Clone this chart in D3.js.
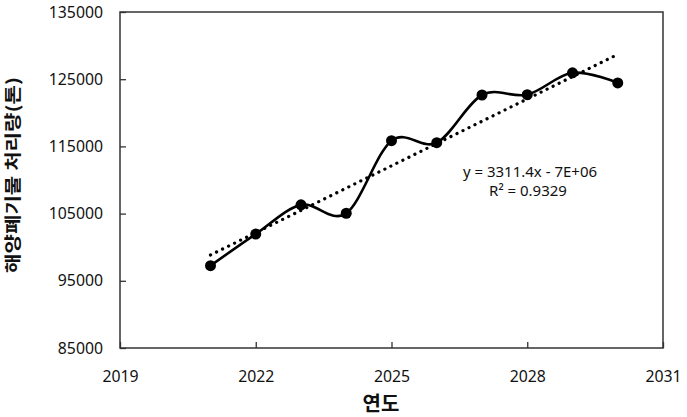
<!DOCTYPE html>
<html>
<head>
<meta charset="utf-8">
<script src="https://cdn.jsdelivr.net/npm/d3@7"></script>
<style>
  html, body { margin: 0; padding: 0; background: #fff; }
  svg { display: block; }
</style>
</head>
<body>
<svg id="chart" width="687" height="417"></svg>
<script>
const years = [2021, 2022, 2023, 2024, 2025, 2026, 2027, 2028, 2029, 2030];
const values = [97250, 101950, 106300, 105050, 115850, 115550, 122650, 122700, 125950, 124450];
const xTicks = [2019, 2022, 2025, 2028, 2031];
const yTicks = [85000, 95000, 105000, 115000, 125000, 135000];
const xTitle = "연도";
const yTitle = "해양폐기물 처리량(톤)";
const eqLines = ["y = 3311.4x - 7E+06", "R² = 0.9329"];

const svg = d3.select("#chart");
const L = 120, R = 663, T = 12, B = 348;
const x = d3.scaleLinear().domain([2019, 2031]).range([L, R]);
const y = d3.scaleLinear().domain([85000, 135000]).range([B, T]);
const font = "'Noto Sans', 'Open Sans', sans-serif";

// plot frame
svg.append("rect").attr("x", L).attr("y", T).attr("width", R - L).attr("height", B - T)
  .attr("fill", "none").attr("stroke", "#333").attr("stroke-width", 1.5);

// axes (inside ticks)
const yAxis = svg.append("g").attr("transform", `translate(${L},0)`)
  .call(d3.axisRight(y).tickValues(yTicks).tickSize(6).tickFormat(d3.format("d")));
yAxis.select(".domain").remove();
yAxis.selectAll("line").attr("stroke", "#333").attr("stroke-width", 1.3);
yAxis.selectAll("text").attr("x", -17).attr("text-anchor", "end")
  .style("font-family", font).style("font-size", "15.8px").attr("fill", "#111");

const xAxis = svg.append("g").attr("transform", `translate(0,${B})`)
  .call(d3.axisTop(x).tickValues(xTicks).tickSize(6).tickFormat(d3.format("d")));
xAxis.select(".domain").remove();
xAxis.selectAll("line").attr("stroke", "#333").attr("stroke-width", 1.3);
xAxis.selectAll("text").attr("y", 23).attr("dy", "0.71em")
  .style("font-family", font).style("font-size", "15.8px").attr("fill", "#111");

// linear trendline (least squares from data)
const n = years.length;
const mx = d3.mean(years), my = d3.mean(values);
let sxy = 0, sxx = 0;
years.forEach((yr, i) => { sxy += (yr - mx) * (values[i] - my); sxx += (yr - mx) ** 2; });
const slope = sxy / sxx, icpt = my - slope * mx;
const tx = [years[0], years[n - 1]];
svg.append("line")
  .attr("x1", x(tx[0])).attr("y1", y(icpt + slope * tx[0]))
  .attr("x2", x(tx[1])).attr("y2", y(icpt + slope * tx[1]))
  .attr("stroke", "#000").attr("stroke-width", 3.2)
  .attr("stroke-linecap", "round").attr("stroke-dasharray", "0.1,6.6");

// smoothed series line
const pts = years.map((yr, i) => [yr, values[i]]);
svg.append("path").datum(pts)
  .attr("d", d3.line().x(d => x(d[0])).y(d => y(d[1])).curve(d3.curveCardinal.tension(0)))
  .attr("fill", "none").attr("stroke", "#000").attr("stroke-width", 2.6);

svg.selectAll("circle.pt").data(pts).enter().append("circle")
  .attr("class", "pt").attr("cx", d => x(d[0])).attr("cy", d => y(d[1]))
  .attr("r", 5.5).attr("fill", "#000");

// equation label
svg.append("text").attr("x", 530).attr("y", 177).attr("text-anchor", "middle")
  .style("font-family", font).style("font-size", "15px").attr("fill", "#111").text(eqLines[0]);
svg.append("text").attr("x", 528).attr("y", 196).attr("text-anchor", "middle")
  .style("font-family", font).style("font-size", "15px").attr("fill", "#111").text(eqLines[1]);

// axis titles
svg.append("text").attr("x", 381).attr("y", 411).attr("text-anchor", "middle")
  .style("font-family", "'Noto Sans CJK KR', sans-serif").style("font-size", "20px")
  .style("font-weight", "bold").attr("fill", "#111").text(xTitle);
svg.append("text").attr("transform", "translate(19,175) rotate(-90)").attr("text-anchor", "middle")
  .style("font-family", "'Noto Sans CJK KR', sans-serif").style("font-size", "17px")
  .style("font-weight", "bold").attr("fill", "#111")
  .attr("textLength", 196).attr("lengthAdjust", "spacingAndGlyphs").text(yTitle);
</script>
</body>
</html>
